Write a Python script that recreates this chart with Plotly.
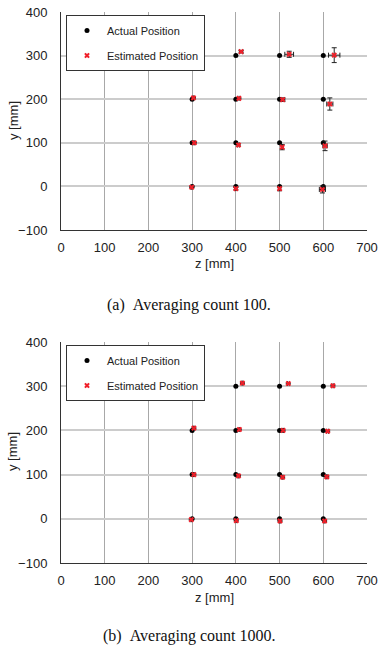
import plotly.graph_objects as go

# ---- data ----
actual_z = [300, 400, 500, 600, 300, 400, 500, 600, 300, 400, 500, 600, 300, 400, 500, 600]
actual_y = [300, 300, 300, 300, 200, 200, 200, 200, 100, 100, 100, 100, 0, 0, 0, 0]

# (a) averaging count 100
est_a_z = [313, 412, 522, 625, 303, 407, 507, 615, 305, 406, 506, 604, 299, 400, 500, 598]
est_a_y = [308, 309, 303, 301, 203, 202, 199, 189, 100, 95, 90, 93, -2, -5, -5, -7]
err_a_z = [1, 4, 10, 13, 1, 2, 5, 7, 1, 2, 2, 5, 1, 1, 1, 7]
err_a_y = [1, 3, 7, 17, 1, 1, 4, 14, 1, 2, 6, 11, 1, 3, 5, 8]

# (b) averaging count 1000
est_b_z = [313, 415, 520, 622, 304, 408, 508, 610, 304, 406, 507, 608, 298, 401, 501, 603]
est_b_y = [307, 307, 306, 301, 205, 202, 200, 198, 100, 97, 94, 95, -2, -4, -5, -5]
err_b_z = [1, 1, 2, 2, 1, 1, 1, 2, 1, 1, 1, 1, 1, 1, 1, 1]
err_b_y = [1, 1, 1, 1, 1, 1, 1, 1, 1, 1, 1, 1, 1, 1, 1, 1]

x_ticks = [0, 100, 200, 300, 400, 500, 600, 700]
y_ticks = [-100, 0, 100, 200, 300, 400]

W, H = 378, 651
RED = "#f0202a"


def py(p):
    return 1 - p / H


fig = go.Figure()

panels = [
    ("x", "y", "legend", est_a_z, est_a_y, err_a_z, err_a_y),
    ("x2", "y2", "legend2", est_b_z, est_b_y, err_b_z, err_b_y),
]
for xa, ya, lg, ez, ey, exz, exy in panels:
    fig.add_trace(go.Scatter(
        x=actual_z, y=actual_y, mode="markers", name="Actual Position",
        marker=dict(symbol="circle", size=5, color="black"),
        xaxis=xa, yaxis=ya, legend=lg, legendgroup=lg + "a"))
    fig.add_trace(go.Scatter(
        x=ez, y=ey, mode="markers", name="Estimated Position",
        marker=dict(symbol="x", size=5, color=RED, line=dict(width=0)),
        error_x=dict(type="data", array=exz, color="#222222", thickness=1, width=2.5),
        error_y=dict(type="data", array=exy, color="#222222", thickness=1, width=2.5),
        xaxis=xa, yaxis=ya, legend=lg, legendgroup=lg + "b"))

x_dom = [61 / W, 367 / W]
axis_font = dict(family="Liberation Sans, Arial", size=13, color="#222222")

xcommon = dict(range=[0, 700], tickvals=x_ticks, showgrid=True, gridcolor="#a8a8a8",
               gridwidth=1, zeroline=False, showline=True, linecolor="#333333",
               linewidth=1, ticks="", tickfont=axis_font, ticklabelstandoff=5,
               domain=x_dom, fixedrange=True, automargin=False)
ycommon = dict(range=[-100, 400], tickvals=y_ticks, showgrid=True, gridcolor="#cccccc",
               gridwidth=2, zeroline=False, showline=True, linecolor="#333333",
               linewidth=1, ticks="", tickfont=axis_font, ticklabelstandoff=10,
               fixedrange=True, automargin=False)

legend_common = dict(bgcolor="white", bordercolor="#333333", borderwidth=1,
                     font=dict(family="Liberation Sans, Arial", size=11, color="#222222"),
                     itemwidth=30, traceorder="grouped", tracegroupgap=6,
                     xanchor="left", yanchor="top", x=66 / W)

fig.update_layout(
    width=W, height=H, margin=dict(l=0, r=0, t=0, b=0),
    paper_bgcolor="white", plot_bgcolor="white",
    xaxis=dict(**xcommon, anchor="y"),
    yaxis=dict(**ycommon, domain=[py(230), py(12)], anchor="x"),
    xaxis2=dict(**xcommon, anchor="y2"),
    yaxis2=dict(**ycommon, domain=[py(563), py(342)], anchor="x2"),
    legend=dict(**legend_common, y=py(15)),
    legend2=dict(**legend_common, y=py(345)),
    showlegend=True,
)

title_font = dict(family="Liberation Sans, Arial", size=13, color="#222222")
cap_font = dict(family="Liberation Serif, Times New Roman", size=16, color="#111111")
ann = [
    dict(text="y [mm]", x=13 / W, y=py(121), textangle=-90, font=title_font),
    dict(text="z [mm]", x=214 / W, y=py(263), font=title_font),
    dict(text="(a)\u2002Averaging count 100.", x=0.5, y=py(305), font=cap_font),
    dict(text="y [mm]", x=13 / W, y=py(452), textangle=-90, font=title_font),
    dict(text="z [mm]", x=214 / W, y=py(597), font=title_font),
    dict(text="(b)\u2002Averaging count 1000.", x=0.5, y=py(636), font=cap_font),
]
for a in ann:
    fig.add_annotation(xref="paper", yref="paper", showarrow=False,
                       xanchor="center", yanchor="middle", **a)

fig.write_html("out.html", config={"displayModeBar": False},
               post_script="document.body.style.margin='0';document.body.style.overflow='hidden';")
